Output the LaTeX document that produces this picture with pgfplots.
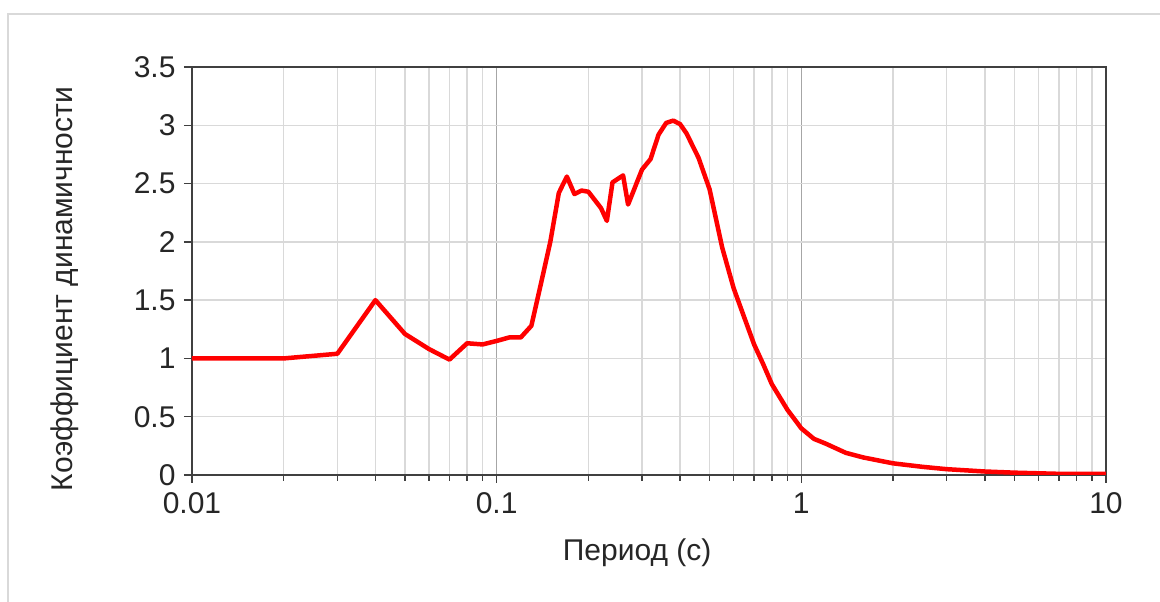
\documentclass[border=0pt]{standalone}
\usepackage{fontspec}
\setmainfont{Liberation Sans}
\usepackage{pgfplots}
\pgfplotsset{compat=1.18}
\definecolor{axgray}{HTML}{404040}
\definecolor{gridlight}{HTML}{D9D9D9}
\definecolor{griddark}{HTML}{A6A6A6}
\definecolor{framegray}{HTML}{D9D9D9}
\begin{document}
\begin{tikzpicture}[x=1pt,y=1pt]
\path[use as bounding box] (0,0) rectangle (1160,602);
\draw[framegray, line width=1.5pt] (8,0) -- (8,588) -- (1160,588);
\begin{axis}[
  at={(192pt,127pt)}, anchor=south west,
  scale only axis, width=914pt, height=408pt,
  xmode=log, xmin=0.01, xmax=10, ymin=0, ymax=3.5,
  xtick={0.01,0.1,1,10}, xticklabels={0.01,0.1,1,10},
  minor xtick={0.02,0.03,0.04,0.05,0.06,0.07,0.08,0.09,0.2,0.3,0.4,0.5,0.6,0.7,0.8,0.9,2,3,4,5,6,7,8,9},
  ytick={0,0.5,1,1.5,2,2.5,3,3.5}, yticklabels={0,0.5,1,1.5,2,2.5,3,3.5},
  tick align=outside, tick pos=left,
  major tick length=8pt, minor tick length=6pt,
  every tick/.style={axgray, line width=1.5pt},
  axis line style={axgray, line width=2pt},
  grid=both,
  major grid style={gridlight, line width=1.5pt},
  minor grid style={gridlight, line width=1.5pt},
  major x grid style={griddark, line width=1.2pt},
  tick label style={font=\fontsize{30}{34}\selectfont, text=black!85},
  xticklabel style={yshift=-6pt},
  yticklabel style={xshift=-5pt},
  xlabel={Период (с)},
  ylabel={Коэффициент динамичности},
  label style={font=\fontsize{30}{34}\selectfont, text=black!85},
  xlabel style={at={(axis description cs:0.487,-0.191)}, anchor=center},
  ylabel style={at={(axis description cs:-0.1395,0.456)}, anchor=center, rotate=0},
  clip=true,
]
\addplot[red, line width=4.5pt, line join=round] coordinates {
(0.01,1.0) (0.02,1.0) (0.03,1.04) (0.04,1.50) (0.05,1.21) (0.06,1.08) (0.07,0.99)
(0.08,1.13) (0.09,1.12) (0.10,1.15) (0.11,1.18) (0.12,1.18) (0.13,1.28) (0.14,1.65)
(0.15,2.0) (0.16,2.42) (0.17,2.56) (0.18,2.41) (0.19,2.44) (0.20,2.43) (0.22,2.29)
(0.23,2.18) (0.24,2.51) (0.26,2.57) (0.27,2.32) (0.30,2.62) (0.32,2.71) (0.34,2.92)
(0.36,3.02) (0.38,3.04) (0.40,3.01) (0.42,2.93) (0.46,2.72) (0.50,2.45) (0.55,1.95)
(0.60,1.60) (0.65,1.35) (0.70,1.12) (0.75,0.95) (0.80,0.78) (0.90,0.56) (1.0,0.40)
(1.1,0.31) (1.2,0.27) (1.4,0.19) (1.6,0.15) (2.0,0.10) (2.5,0.07) (3.0,0.05)
(4.0,0.03) (5.0,0.02) (7.0,0.01) (10,0.01)
};
\end{axis}
\end{tikzpicture}
\end{document}
